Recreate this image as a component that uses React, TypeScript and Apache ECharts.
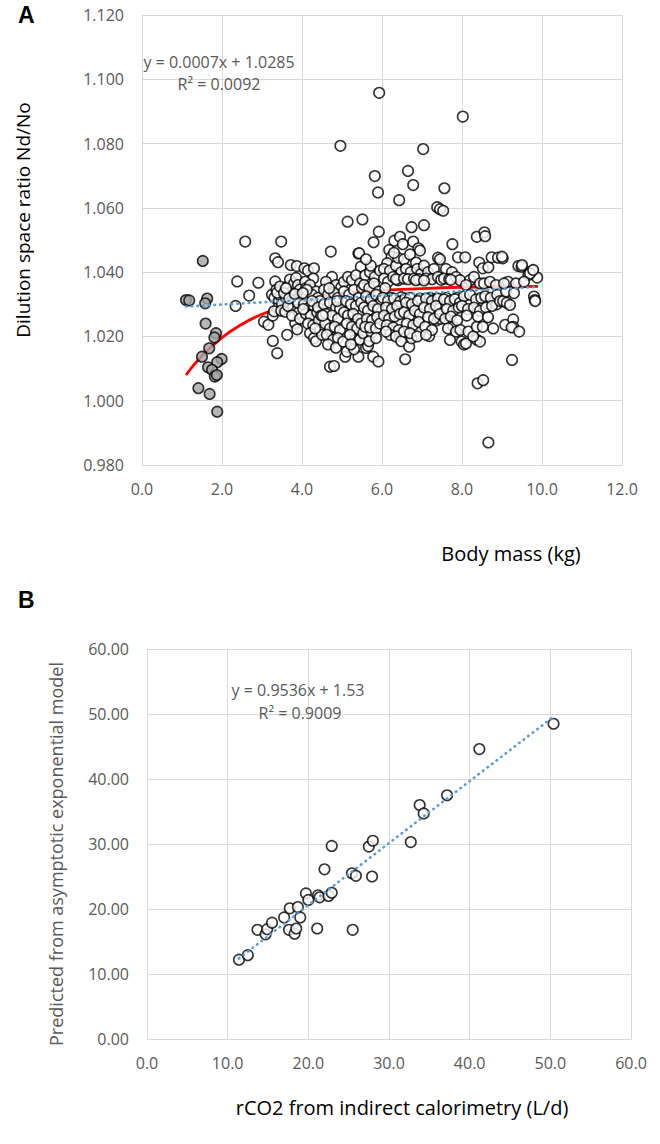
import React, { useEffect, useRef } from "react";
import * as echarts from "echarts";

// ---------- Panel A data ----------
const massTicksA = [0, 12, 2];
const ratioTicksA = [0.98, 1.12, 0.02];

// grey (smallest animals)
const juvenilePoints: [number, number][] = [
  [1.52, 1.0435], [1.10, 1.0313], [1.18, 1.0312], [1.63, 1.0318], [1.58, 1.0303],
  [1.59, 1.0240], [1.85, 1.0210], [1.81, 1.0197], [1.68, 1.0163], [1.50, 1.0137],
  [1.99, 1.0130], [1.88, 1.0120], [1.65, 1.0104], [1.75, 1.0096], [1.82, 1.0075],
  [1.87, 1.0080], [1.41, 1.0039], [1.69, 1.0021], [1.88, 0.9966],
];

// white points
const adultPoints: [number, number][] = [
  [2.34, 1.0295], [2.38, 1.0371], [2.58, 1.0495], [2.68, 1.0327], [2.91, 1.0367],
  [3.05, 1.0246], [3.16, 1.0236], [3.27, 1.0186], [3.38, 1.0148], [3.27, 1.0265], [3.33, 1.0443], [3.40, 1.0431], [3.48, 1.0495], [3.33, 1.0371], [3.25, 1.0330], [3.31, 1.0320], [3.36, 1.0345], [3.42, 1.0310], [3.46, 1.0326], [3.40, 1.0288], [3.50, 1.0302], [3.38, 1.0336], [3.30, 1.0278], [3.45, 1.0355], [3.48, 1.0280],
  [3.63, 1.0205], [3.83, 1.0241], [3.58, 1.0277], [3.72, 1.0422], [3.87, 1.0419], [3.65, 1.0356], [3.70, 1.0377], [3.75, 1.0340], [3.80, 1.0365], [3.85, 1.0382], [3.90, 1.0360], [3.95, 1.0346], [3.60, 1.0320], [3.70, 1.0305], [3.78, 1.0290], [3.85, 1.0315], [3.92, 1.0275], [3.98, 1.0330], [3.55, 1.0335], [3.65, 1.0295], [3.90, 1.0305], [3.75, 1.0265], [3.95, 1.0255], [3.88, 1.0222], [3.68, 1.0318], [3.82, 1.0332], [3.60, 1.0350],
  [4.06, 1.0412], [4.15, 1.0405], [4.30, 1.0412], [4.28, 1.0380], [4.08, 1.0370], [4.10, 1.0350], [4.20, 1.0360], [4.35, 1.0340], [4.12, 1.0325], [4.25, 1.0330], [4.40, 1.0320], [4.05, 1.0300], [4.18, 1.0290], [4.30, 1.0295], [4.45, 1.0310], [4.10, 1.0270], [4.22, 1.0265], [4.38, 1.0275], [4.15, 1.0240], [4.28, 1.0235], [4.42, 1.0250], [4.20, 1.0210], [4.30, 1.0195], [4.35, 1.0185], [4.45, 1.0220], [4.50, 1.0205], [4.03, 1.0285], [4.25, 1.0310], [4.40, 1.0290], [4.48, 1.0265], [4.12, 1.0345], [4.33, 1.0225], [4.02, 1.0335],
  [4.72, 1.0464], [4.75, 1.0385], [4.60, 1.0370], [4.85, 1.0360], [4.98, 1.0353], [4.55, 1.0345], [4.65, 1.0330], [4.80, 1.0335], [4.90, 1.0320], [4.55, 1.0300], [4.70, 1.0305], [4.85, 1.0290], [4.95, 1.0285], [4.60, 1.0270], [4.75, 1.0265], [4.90, 1.0255], [4.58, 1.0240], [4.70, 1.0225], [4.82, 1.0230], [4.95, 1.0220], [4.62, 1.0205], [4.78, 1.0190], [4.90, 1.0195], [4.70, 1.0106], [4.80, 1.0108], [4.65, 1.0175], [4.85, 1.0165], [4.52, 1.0265], [4.96, 1.0793], [4.68, 1.0350], [4.88, 1.0310],
  [5.14, 1.0557], [5.41, 1.0458], [5.43, 1.0459], [5.47, 1.0417], [5.03, 1.0184], [5.08, 1.0137], [5.12, 1.0153], [5.33, 1.0190], [5.41, 1.0137], [5.05, 1.0370], [5.15, 1.0385], [5.25, 1.0375], [5.35, 1.0390], [5.45, 1.0365], [5.05, 1.0340], [5.18, 1.0330], [5.30, 1.0345], [5.42, 1.0320], [5.10, 1.0310], [5.22, 1.0300], [5.35, 1.0295], [5.48, 1.0305], [5.05, 1.0275], [5.15, 1.0265], [5.28, 1.0270], [5.40, 1.0255], [5.12, 1.0240], [5.25, 1.0230], [5.38, 1.0225], [5.48, 1.0240], [5.20, 1.0205], [5.30, 1.0160], [5.45, 1.0190], [5.22, 1.0175], [5.50, 1.0350],
  [5.51, 1.0564], [5.82, 1.0699], [5.90, 1.0648], [5.93, 1.0958], [5.92, 1.0526], [5.79, 1.0493], [5.78, 1.0137], [5.91, 1.0122], [5.60, 1.0164], [5.65, 1.0170], [5.53, 1.0210], [5.74, 1.0212], [5.58, 1.0390], [5.70, 1.0400], [5.82, 1.0385], [5.95, 1.0405], [5.55, 1.0360], [5.68, 1.0350], [5.80, 1.0365], [5.92, 1.0340], [5.60, 1.0325], [5.72, 1.0315], [5.85, 1.0330], [5.98, 1.0310], [5.55, 1.0290], [5.65, 1.0280], [5.78, 1.0295], [5.90, 1.0285], [5.62, 1.0255], [5.75, 1.0250], [5.88, 1.0260], [5.58, 1.0230], [5.70, 1.0228], [5.85, 1.0225], [5.95, 1.0240], [5.68, 1.0185], [5.85, 1.0195], [5.72, 1.0420], [5.60, 1.0440],
  [6.18, 1.0469], [6.24, 1.0448], [6.13, 1.0428], [6.31, 1.0498], [6.45, 1.0510], [6.43, 1.0624], [6.05, 1.0410], [6.20, 1.0405], [6.35, 1.0420], [6.48, 1.0400], [6.05, 1.0380], [6.15, 1.0370], [6.28, 1.0385], [6.40, 1.0375], [6.08, 1.0350], [6.22, 1.0320], [6.35, 1.0378], [6.48, 1.0322], [6.02, 1.0320], [6.15, 1.0310], [6.30, 1.0318], [6.45, 1.0308], [6.10, 1.0290], [6.25, 1.0285], [6.38, 1.0295], [6.05, 1.0265], [6.18, 1.0255], [6.32, 1.0262], [6.45, 1.0270], [6.12, 1.0235], [6.28, 1.0228], [6.42, 1.0220], [6.20, 1.0205], [6.35, 1.0200], [6.48, 1.0185], [6.10, 1.0215], [6.40, 1.0445], [6.30, 1.0460],
  [6.52, 1.0487], [6.65, 1.0715], [6.78, 1.0671], [6.74, 1.0540], [6.78, 1.0495], [6.91, 1.0474], [6.95, 1.0467], [6.58, 1.0129], [6.68, 1.0168], [6.74, 1.0194], [6.55, 1.0440], [6.70, 1.0455], [6.85, 1.0430], [6.60, 1.0410], [6.72, 1.0400], [6.88, 1.0410], [6.98, 1.0395], [6.55, 1.0380], [6.65, 1.0378], [6.80, 1.0380], [6.92, 1.0378], [6.58, 1.0318], [6.70, 1.0320], [6.85, 1.0375], [6.95, 1.0318], [6.60, 1.0305], [6.75, 1.0300], [6.90, 1.0310], [6.55, 1.0275], [6.68, 1.0265], [6.82, 1.0280], [6.95, 1.0270], [6.62, 1.0240], [6.78, 1.0235], [6.92, 1.0245], [6.55, 1.0215], [6.70, 1.0210], [6.88, 1.0200],
  [7.03, 1.0783], [7.05, 1.0546], [7.38, 1.0602], [7.45, 1.0596], [7.40, 1.0445], [7.45, 1.0440], [7.18, 1.0201], [7.37, 1.0250], [7.45, 1.0255], [7.05, 1.0420], [7.15, 1.0400], [7.30, 1.0410], [7.10, 1.0380], [7.25, 1.0378], [7.40, 1.0385], [7.05, 1.0374], [7.20, 1.0320], [7.35, 1.0318], [7.48, 1.0376], [7.10, 1.0318], [7.25, 1.0310], [7.40, 1.0318], [7.05, 1.0290], [7.20, 1.0285], [7.35, 1.0295], [7.15, 1.0260], [7.30, 1.0255], [7.45, 1.0270], [7.08, 1.0230], [7.25, 1.0220], [7.10, 1.0205],
  [7.53, 1.0591], [7.56, 1.0661], [7.76, 1.0487], [7.70, 1.0189], [7.78, 1.0230], [7.90, 1.0446], [7.60, 1.0410], [7.75, 1.0400], [7.55, 1.0380], [7.68, 1.0378], [7.85, 1.0385], [7.95, 1.0375], [7.60, 1.0320], [7.72, 1.0376], [7.88, 1.0320], [7.55, 1.0315], [7.70, 1.0310], [7.82, 1.0316], [7.95, 1.0305], [7.62, 1.0285], [7.78, 1.0280], [7.92, 1.0290], [7.58, 1.0255], [7.72, 1.0262], [7.88, 1.0250], [7.65, 1.0225], [7.85, 1.0215], [7.99, 1.0184], [7.96, 1.0220],
  [8.02, 1.0884], [8.08, 1.0446], [8.37, 1.0510], [8.43, 1.0430], [8.05, 1.0175], [8.10, 1.0178], [8.37, 1.0190], [8.45, 1.0184], [8.39, 1.0054], [8.16, 1.0215], [8.28, 1.0200], [8.37, 1.0230], [8.20, 1.0375], [8.30, 1.0385], [8.10, 1.0360], [8.45, 1.0365], [8.05, 1.0325], [8.20, 1.0330], [8.35, 1.0315], [8.48, 1.0320], [8.00, 1.0295], [8.15, 1.0285], [8.30, 1.0290], [8.45, 1.0280], [8.12, 1.0265], [8.40, 1.0262],
  [8.56, 1.0524], [8.58, 1.0512], [8.53, 1.0064], [8.66, 0.9870], [8.52, 1.0412], [8.66, 1.0415], [8.74, 1.0446], [8.78, 1.0225], [8.87, 1.0300], [8.55, 1.0365], [8.70, 1.0370], [8.85, 1.0360], [8.58, 1.0325], [8.72, 1.0320], [8.88, 1.0330], [8.60, 1.0290], [8.75, 1.0295], [8.95, 1.0310], [8.52, 1.0230], [8.65, 1.0260], [8.90, 1.0445],
  [9.02, 1.0443], [9.00, 1.0448], [9.08, 1.0236], [9.28, 1.0253], [9.28, 1.0230], [9.24, 1.0228], [9.43, 1.0215], [9.25, 1.0127], [9.41, 1.0419], [9.49, 1.0417], [9.50, 1.0422], [9.77, 1.0405], [9.88, 1.0383], [9.66, 1.0391], [9.70, 1.0396], [9.78, 1.0407], [9.80, 1.0324], [9.82, 1.0313], [9.83, 1.0310], [9.03, 1.0310], [9.12, 1.0305], [9.20, 1.0298], [9.15, 1.0370], [9.35, 1.0365], [9.55, 1.0370], [9.10, 1.0340], [9.30, 1.0335], [9.05, 1.0365],
];

// red fitted curve
const curveMass = [1.1, 1.5, 2.0, 2.5, 3.0, 3.5, 4.0, 5.0, 6.0, 7.0, 8.0, 9.0, 9.9];
const curveRatio = [1.0080, 1.0140, 1.0196, 1.0238, 1.0269, 1.0292, 1.0309, 1.0331, 1.0343, 1.0349, 1.0353, 1.0355, 1.0356];

// blue dotted linear trend A
const trendAMass = [1.1, 9.9];
const trendARatio = [1.0293, 1.0354];

// ---------- Panel B data ----------
const rco2Points: [number, number][] = [
  [11.4, 12.2], [12.5, 12.9], [13.7, 16.8], [14.7, 16.1], [14.9, 16.9], [15.5, 17.9],
  [17.0, 18.7], [17.7, 20.1], [17.6, 16.8], [18.3, 16.2], [18.5, 17.0], [18.7, 20.3],
  [19.0, 18.7], [19.7, 22.4], [20.0, 21.4], [21.1, 17.0], [21.2, 22.1], [21.4, 21.8],
  [22.0, 26.1], [22.5, 22.0], [22.9, 22.5], [22.9, 29.7], [25.4, 25.5], [25.5, 16.8],
  [25.9, 25.1], [27.5, 29.6], [27.9, 25.0], [28.0, 30.5], [32.7, 30.3], [33.8, 36.0],
  [34.3, 34.7], [37.2, 37.5], [41.2, 44.6], [50.4, 48.5],
];
const trendBx = [11.4, 50.4];
const trendBy = [12.4, 49.59];

const FONT = "'Open Sans', sans-serif";
const GRID_COLOR = "#d9d9d9";
const LABEL_COLOR = "#595959";

function axis(gridIndex: number, min: number, max: number, interval: number, digits: number, margin: number) {
  return {
    type: "value",
    gridIndex,
    min,
    max,
    interval,
    axisLine: { show: true, lineStyle: { color: GRID_COLOR, width: 1 } },
    axisTick: { show: false },
    splitLine: { show: true, lineStyle: { color: GRID_COLOR, width: 1 } },
    axisLabel: {
      color: LABEL_COLOR,
      fontSize: 16,
      fontFamily: FONT,
      margin,
      formatter: (v: number) => v.toFixed(digits),
    },
  };
}

const whiteMarker = { color: "#ffffff", borderColor: "#000000", borderWidth: 1.6 };
const dotted = { color: "#5b9bd5", width: 2.6, type: [0.5, 5.2], cap: "round" };

function txt(text: string, x: number, y: number, opts: any = {}) {
  return {
    type: "text",
    x,
    y,
    rotation: opts.rotation || 0,
    style: {
      text,
      fill: opts.fill || LABEL_COLOR,
      font: opts.font || `16px ${FONT}`,
      align: opts.align || "center",
      verticalAlign: "middle",
    },
    z: 10,
  };
}

export default function App() {
  const ref = useRef<HTMLDivElement>(null);
  useEffect(() => {
    document.body.style.margin = "0";
    const chart = echarts.init(ref.current!, null, { renderer: "svg" });
    const option: any = {
      animation: false,
      backgroundColor: "#ffffff",
      grid: [
        { left: 142, top: 15, width: 480, height: 450 },
        { left: 147, top: 649, width: 484, height: 390 },
      ],
      xAxis: [
        axis(0, massTicksA[0], massTicksA[1], massTicksA[2], 1, 16),
        axis(1, 0, 60, 10, 1, 16),
      ],
      yAxis: [
        axis(0, ratioTicksA[0], ratioTicksA[1], ratioTicksA[2], 3, 18),
        axis(1, 0, 60, 10, 2, 18),
      ],
      series: [
        {
          type: "line",
          xAxisIndex: 0,
          yAxisIndex: 0,
          data: curveMass.map((m, i) => [m, curveRatio[i]]),
          smooth: true,
          showSymbol: false,
          lineStyle: { color: "#ff0000", width: 2.8 },
          z: 1,
        },
        {
          type: "scatter",
          xAxisIndex: 0,
          yAxisIndex: 0,
          data: juvenilePoints,
          symbol: "circle",
          symbolSize: 10.5,
          itemStyle: { color: "#a5a5a5", borderColor: "#000000", borderWidth: 1.6 },
          z: 2,
        },
        {
          type: "scatter",
          xAxisIndex: 0,
          yAxisIndex: 0,
          data: adultPoints,
          symbol: "circle",
          symbolSize: 10.5,
          itemStyle: whiteMarker,
          z: 2,
        },
        {
          type: "line",
          xAxisIndex: 0,
          yAxisIndex: 0,
          data: trendAMass.map((m, i) => [m, trendARatio[i]]),
          showSymbol: false,
          lineStyle: dotted,
          z: 3,
        },
        {
          type: "scatter",
          xAxisIndex: 1,
          yAxisIndex: 1,
          data: rco2Points,
          symbol: "circle",
          symbolSize: 10.5,
          itemStyle: whiteMarker,
          z: 2,
        },
        {
          type: "line",
          xAxisIndex: 1,
          yAxisIndex: 1,
          data: trendBx.map((m, i) => [m, trendBy[i]]),
          showSymbol: false,
          lineStyle: dotted,
          z: 3,
        },
      ],
      graphic: [
        txt("A", 18, 15, { font: `bold 23px 'Liberation Sans', Arial, sans-serif`, fill: "#000", align: "left" }),
        txt("B", 18, 600, { font: `bold 23px 'Liberation Sans', Arial, sans-serif`, fill: "#000", align: "left" }),
        txt("y = 0.0007x + 1.0285", 219, 62),
        txt("R² = 0.0092", 219, 84),
        txt("y = 0.9536x + 1.53", 298, 690),
        txt("R² = 0.9009", 300, 713),
        txt("Body mass (kg)", 511, 553, { fill: "#000", font: `20px ${FONT}` }),
        txt("rCO2 from indirect calorimetry (L/d)", 402, 1107, { fill: "#000", font: `20px ${FONT}` }),
        txt("Dilution space ratio Nd/No", 23, 220, { fill: "#000", font: `19px ${FONT}`, rotation: Math.PI / 2 }),
        txt("Predicted from asymptotic exponential model", 56, 854, { font: `18px ${FONT}`, rotation: Math.PI / 2 }),
      ],
    };
    chart.setOption(option);
    return () => chart.dispose();
  }, []);
  return <div ref={ref} style={{ width: 660, height: 1144 }} />;
}
